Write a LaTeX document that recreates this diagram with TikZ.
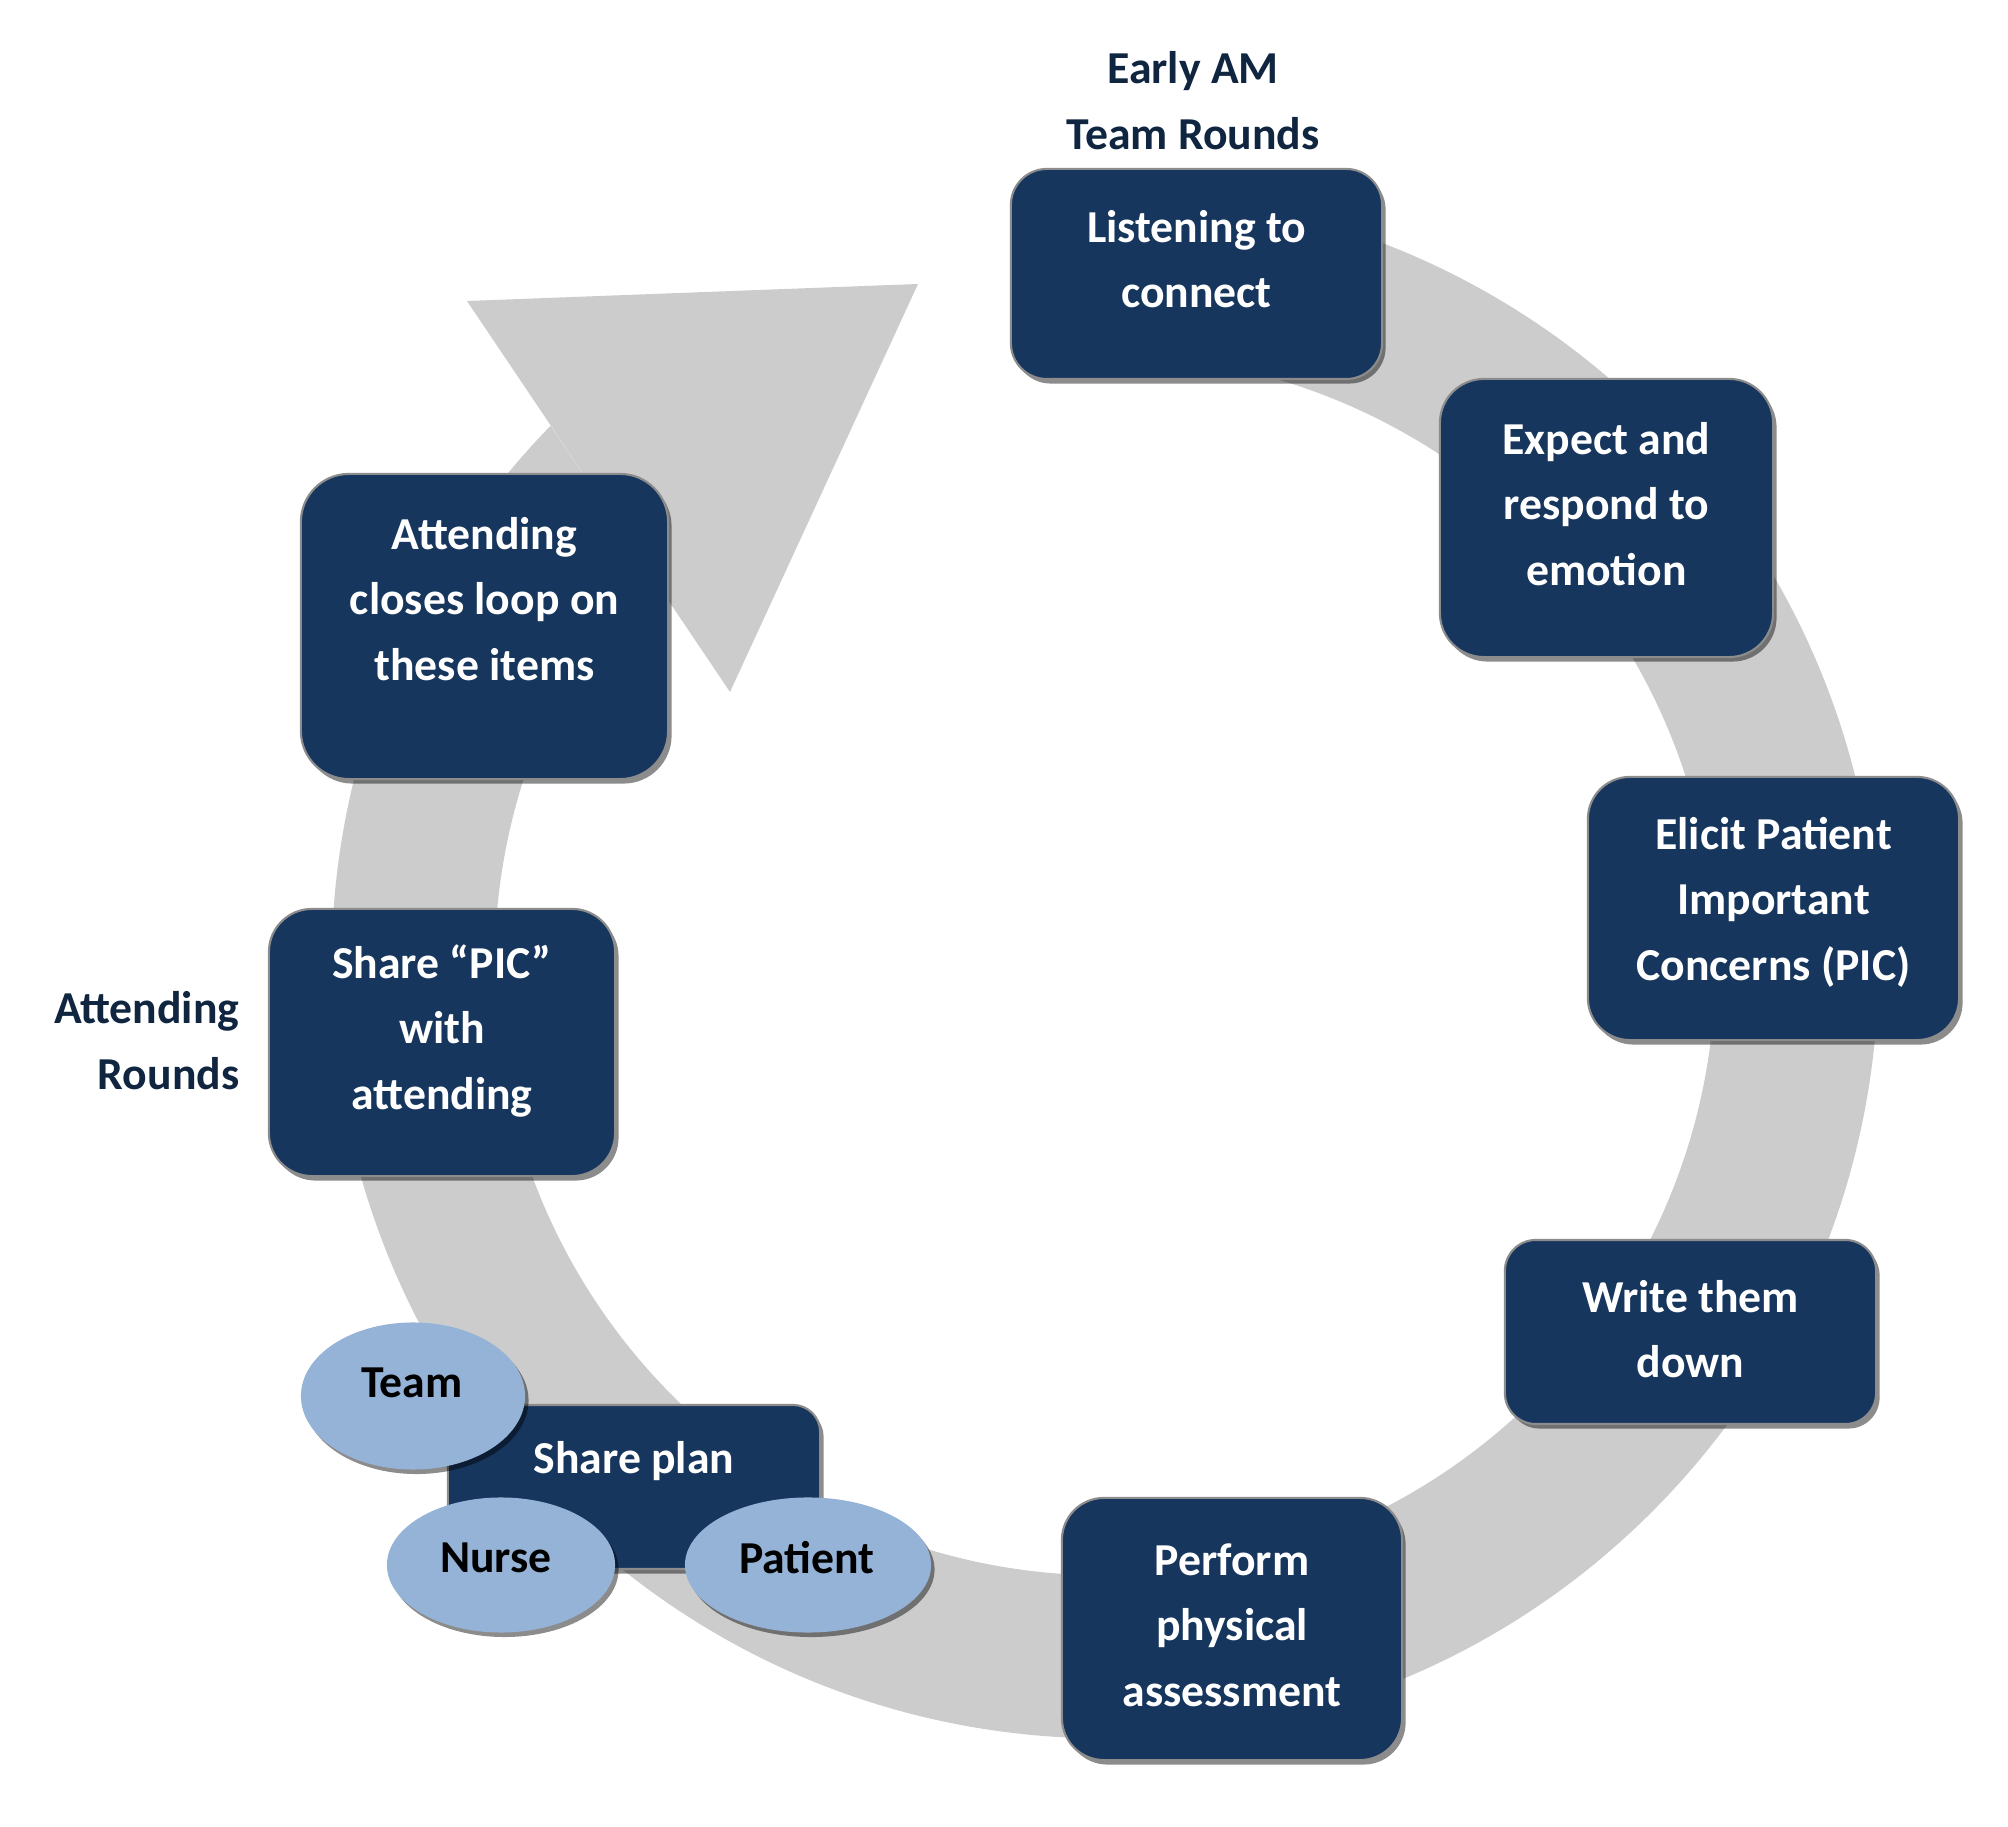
\documentclass[tikz,border=0pt]{standalone}
\usepackage{fontspec}
\setmainfont{Carlito}
\usetikzlibrary{calc,shadows,shapes.geometric}
\definecolor{navy}{RGB}{23,54,93}
\definecolor{ringgray}{RGB}{204,204,204}
\definecolor{ellblue}{RGB}{149,179,215}
\definecolor{labelnavy}{RGB}{16,37,63}
\tikzset{
  boxshape/.style={draw=black!45, line width=0.6pt, fill=navy, inner sep=0pt, outer sep=0pt,
    drop shadow={shadow xshift=0.035cm, shadow yshift=-0.045cm, fill=black, opacity=0.45}},
  ellshape/.style={ellipse, fill=ellblue, inner sep=0pt, outer sep=0pt,
    drop shadow={shadow xshift=0.035cm, shadow yshift=-0.045cm, fill=black, opacity=0.45}},
  boxtext/.style={text=white, align=center, font=\fontsize{13pt}{18.6pt}\selectfont\bfseries, inner sep=0pt},
  elltext/.style={text=black, align=center, font=\fontsize{13pt}{18.6pt}\selectfont\bfseries, inner sep=0pt},
  lbltext/.style={text=labelnavy, font=\fontsize{13pt}{18.8pt}\selectfont\bfseries, inner sep=0pt},
}
\begin{document}
\begin{tikzpicture}[x=0.01cm, y=0.01cm]
\useasboundingbox (0,0) rectangle (2008,1826);
\fill[white] (0,0) rectangle (2008,1826);
% ring arrow
\coordinate (C) at (1105,861);
\fill[ringgray] ($(C)+(135.8:7.73cm)$) arc[start angle=135.8, end angle=453, radius=7.73cm]
  -- ($(C)+(453:6.10cm)$) arc[start angle=453, end angle=139.0, radius=6.10cm] -- cycle;
\fill[ringgray] (467,1525) -- (918,1542) -- (730,1134) -- cycle;
% labels
\node[lbltext, align=center] (lblA) at (1193,1725) {Early AM\\Team Rounds};
\node[lbltext, align=right, anchor=east] (lblB) at (240,785) {Attending\\Rounds};
% boxes
\node[boxshape, minimum width=3.71cm, minimum height=2.10cm, rounded corners=0.36cm] (b1) at (1196.5,1552) {};
\node[boxtext] (t1) at (1196.5,1567) {Listening to\\connect};
\node[boxshape, minimum width=3.33cm, minimum height=2.78cm, rounded corners=0.44cm] (b2) at (1606.5,1308) {};
\node[boxtext] (t2) at (1606.5,1322) {Expect and\\respond to\\emotion};
\node[boxshape, minimum width=3.71cm, minimum height=2.63cm, rounded corners=0.42cm] (b3) at (1773.5,917.5) {};
\node[boxtext] (t3) at (1773.5,924) {Elicit Patient\\Important\\Concerns (PIC)};
\node[boxshape, minimum width=3.71cm, minimum height=1.84cm, rounded corners=0.31cm] (b4) at (1690.5,494) {};
\node[boxtext] (t4) at (1690.5,497) {Write them\\down};
\node[boxshape, minimum width=3.40cm, minimum height=2.62cm, rounded corners=0.42cm] (b5) at (1232,197) {};
\node[boxtext] (t5) at (1232,201) {Perform\\physical\\assessment};
\node[boxshape, minimum width=3.46cm, minimum height=2.67cm, rounded corners=0.43cm] (b7) at (442,783.5) {};
\node[boxtext] (t7) at (442,795) {Share “PIC”\\with\\attending};
\node[boxshape, minimum width=3.67cm, minimum height=3.05cm, rounded corners=0.48cm] (b8) at (484.5,1199.5) {};
\node[boxtext] (t8) at (484.5,1227) {Attending\\closes loop on\\these items};
\node[boxshape, minimum width=3.72cm, minimum height=1.64cm, rounded corners=0.27cm] (b6) at (634,339) {};
\node[boxtext] (t6) at (634,365) {Share plan};
% ellipses
\node[ellshape, minimum width=2.24cm, minimum height=1.47cm] (e1) at (413,430) {};
\node[elltext] (et1) at (412,443) {Team};
\node[ellshape, minimum width=2.28cm, minimum height=1.35cm] (e2) at (501,261) {};
\node[elltext] (et2) at (496,268) {Nurse};
\node[ellshape, minimum width=2.46cm, minimum height=1.35cm] (e3) at (808,261) {};
\node[elltext] (et3) at (807,268) {Patient};
\end{tikzpicture}
\end{document}
